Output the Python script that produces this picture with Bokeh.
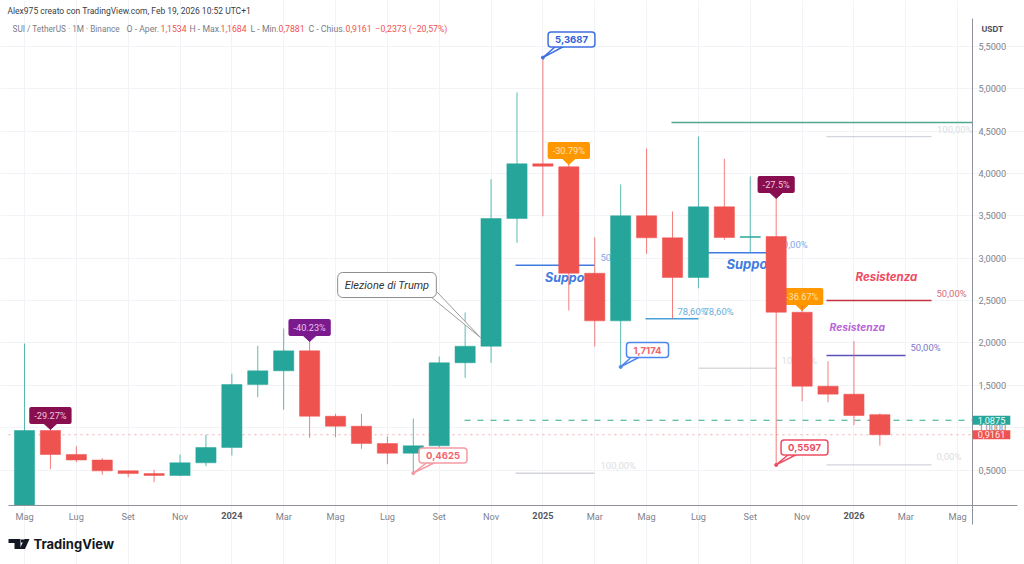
from bokeh.embed import file_html
from bokeh.resources import INLINE
from bokeh.plotting import figure
from bokeh.models import (ColumnDataSource, Label, LinearAxis, FixedTicker, Range1d, Grid, PolyAnnotation)

# ---------- candle data (monthly SUI/USDT) ----------
months = list(range(34))
opens  = [0.081,0.966,0.683,0.618,0.490,0.458,0.435,0.585,0.766,1.509,1.671,1.907,1.135,1.017,0.813,0.698,0.786,1.766,1.961,3.469,
          4.115,4.080,2.823,2.261,3.501,3.241,2.773,3.607,3.245,3.257,2.363,1.489,1.395,1.1534]
highs  = [1.993,1.060,0.781,0.640,0.497,0.502,0.683,0.916,1.636,1.966,2.170,2.029,1.163,1.163,0.895,1.108,1.840,2.359,3.933,4.957,
          5.3687,4.154,3.248,3.871,4.296,3.552,4.437,4.174,3.965,3.750,2.442,1.785,2.021,1.1684]
lows   = [0.081,0.509,0.592,0.443,0.415,0.356,0.427,0.545,0.671,1.359,1.211,0.880,0.887,0.750,0.568,0.4625,0.730,1.588,1.765,3.182,
          3.496,2.383,1.958,1.7174,3.052,2.288,2.646,3.218,3.064,0.5597,1.312,1.300,1.029,0.7881]
closes = [0.966,0.683,0.618,0.490,0.458,0.435,0.585,0.766,1.509,1.671,1.907,1.135,1.017,0.813,0.698,0.786,1.766,1.961,3.469,4.115,
          4.087,2.823,2.261,3.501,3.241,2.773,3.607,3.245,3.257,2.363,1.489,1.395,1.143,0.9161]

month_ticks = [0,2,4,6,10,12,14,16,18,22,24,26,28,30,34,36]
month_labels = ["Mag","Lug","Set","Nov","Mar","Mag","Lug","Set","Nov","Mar","Mag","Lug","Set","Nov","Mar","Mag"]
year_ticks = [8,20,32]
year_labels = ["2024","2025","2026"]
price_ticks = [0.5,1.0,1.5,2.0,2.5,3.0,3.5,4.0,4.5,5.0,5.5]
price_labels = ["0,5000","1,0000","1,5000","2,0000","2,5000","3,0000","3,5000","4,0000","4,5000","5,0000","5,5000"]

last_price = 0.9161
level_price = 1.0875

# percentage tags: month, price at tip, text, colour
tag_month = [1,11,21,29]
tag_tip   = [0.978,2.017,4.107,3.706]
tag_text  = ["-29.27%","-40.23%","-30.79%","-27.5%"]
tag_color = ["#880e4f","#7b1a8c","#ff9800","#880e4f"]
tag_ink   = ["#f3c6da","#e6c4ef","#ffe2b0","#f3c6da"]

# ---------- helpers: page pixel <-> data scale ----------
M = 25.92   # px per month
U = 84.7    # px per price unit
def ix(px): return (px-24)/M
def pv(py): return (511.85-py)/U

TEAL, RED = "#26a69a", "#ef5350"
GREY, GRID = "#8f929b", "#f1f3f7"
FONT = "Inter"
SMALL = "Roboto"

p = figure(width=1024, height=564, output_backend="svg", toolbar_location=None,
           x_range=Range1d(ix(0), ix(1024)), y_range=Range1d(pv(564), pv(0)),
           x_axis_location=None, y_axis_location=None,
           min_border_left=0, min_border_right=0, min_border_top=0, min_border_bottom=0,
           outline_line_color=None, background_fill_color="white", border_fill_color="white")
p.grid.visible = False

axis_y0 = pv(505)
axis_x1 = ix(972)

# grids
p.add_layout(Grid(dimension=0, ticker=FixedTicker(ticks=sorted(month_ticks+year_ticks)),
                  grid_line_color=GRID, grid_line_width=1, bounds=(axis_y0, pv(18))))
p.add_layout(Grid(dimension=1, ticker=FixedTicker(ticks=price_ticks),
                  grid_line_color=GRID, grid_line_width=1, bounds=(ix(8), axis_x1)))

# axes
xa = LinearAxis(fixed_location=axis_y0, ticker=FixedTicker(ticks=month_ticks),
                major_label_overrides=dict(zip(month_ticks, month_labels)))
ya = LinearAxis(fixed_location=axis_x1, ticker=FixedTicker(ticks=price_ticks),
                major_label_overrides=dict(zip(price_ticks, price_labels)))
for a in (xa, ya):
    a.axis_line_color = None
    a.major_tick_line_color = None
    a.minor_tick_line_color = None
    a.major_tick_in = 0
    a.major_tick_out = 0
    a.major_label_text_color = "#7f828c"
    a.major_label_text_font = SMALL
    a.major_label_text_font_size = "9.2px"
xa.major_label_standoff = 5
ya.major_label_standoff = 6
p.add_layout(xa, "below")
p.add_layout(ya, "right")

def txt(s, px, py, color, size="10px", style="normal", align="left", level="annotation", font=SMALL, **kw):
    p.add_layout(Label(x=ix(px), y=pv(py), text=s, text_color=color, text_font=font, text_font_size=size,
                       text_font_style=style, text_align=align, text_baseline="middle", level=level, **kw))

for m, lab in zip(year_ticks, year_labels):
    txt(lab, 24+m*M, 515, "#555862", "9.2px", "bold", "center")

# ---------- drawings beneath the candles ----------
def seg(x0, x1, price, color, width=1, dash="solid", alpha=1):
    p.line([ix(x0), ix(x1)], [price, price], line_color=color, line_width=width, line_dash=dash, line_alpha=alpha)

seg(8, 972, last_price, "#f7a8ac", 1, "dotted")
seg(464, 972, level_price, "#2aa88a", 1, [6,7])
seg(671, 972, 4.603, "#4fa88f", 1.5)
seg(826, 931, 4.437, "#d3d5dc", 1.2)
seg(826, 931, 2.5, "#c4323f", 1.5)
seg(826, 931, 0.561, "#d3d5dc", 1.2)
seg(826, 905, 1.852, "#5a52b8", 1.5)
seg(515, 594, 2.918, "#3f7be0", 1.5)
seg(698, 776, 3.065, "#3f7be0", 1.5)
seg(645, 698, 2.285, "#4aa0d8", 1.5)
seg(698, 776, 1.702, "#d8dade", 1.5)
seg(515, 594, 0.462, "#d3d5dc", 1.5)

u = "underlay"
txt("Supporto", 544.5, 277, "#3f7be0", "12.5px", "bold italic", level=u, font=FONT)
txt("Supporto", 726, 263, "#3f7be0", "13px", "bold italic", level=u, font=FONT)
txt("50,00%", 600, 257, "#7fa6ec", "9.5px", level=u)
txt("50,00%", 777, 244, "#7fa6ec", "9.5px", level=u)
txt("78,60%", 677, 310.5, "#6bb0dc", "9.5px", level=u)
txt("78,60%", 703, 310.5, "#6bb0dc", "9.5px", level=u)
txt("100,00%", 781, 360, "#dcdee3", "9.5px", level=u)
txt("100,00%", 600, 465, "#dcdee3", "9.5px", level=u)
txt("100,00%", 936.5, 129, "#dcdee3", "9.5px", level=u)
txt("0,00%", 936, 456, "#dcdee3", "9.5px", level=u)
txt("50,00%", 936, 292.5, "#d96c7c", "9.5px", level=u)
txt("50,00%", 910, 347, "#7f78c8", "9.5px", level=u)
txt("Resistenza", 855, 276, "#ef4b63", "11.5px", "bold italic", level=u, font=FONT)
txt("Resistenza", 829, 326, "#b866d8", "10.3px", "bold italic", level=u, font=FONT)

# -36.67% tag sits behind the previous candle
def tag_triangle(m, tip, color):
    p.patch([m-6.5/M, m, m+6.5/M], [tip+6/U, tip, tip+6/U], fill_color=color, line_color=color)

tag_triangle(30, 2.383, "#ff9800")
p.add_layout(Label(x=30, y=2.383+14/U, text="-36.67%", text_color="#ffe2b0", text_font=SMALL, text_font_size="9.2px",
                   text_align="center", text_baseline="middle", background_fill_color="#ff9800",
                   padding=(5,3), border_radius=2, level=u))

# ---------- candles ----------
up = [i for i in months if closes[i] >= opens[i]]
dn = [i for i in months if closes[i] < opens[i]]
for idx, col in ((up, TEAL), (dn, RED)):
    src = ColumnDataSource(dict(x=[months[i] for i in idx], o=[opens[i] for i in idx], c=[closes[i] for i in idx],
                                h=[highs[i] for i in idx], l=[lows[i] for i in idx]))
    p.segment("x", "h", "x", "l", source=src, line_color=col, line_width=1, line_alpha=0.75)
    p.vbar(x="x", width=0.78, top="c", bottom="o", source=src, fill_color=col, line_color=col, line_width=0.5)

# axis lines, which run past the plot corner
p.line([ix(8), ix(1017)], [axis_y0, axis_y0], line_color=GREY, line_width=1)
p.line([axis_x1, axis_x1], [pv(18), pv(524)], line_color=GREY, line_width=1)

# ---------- percentage tags ----------
for m, tip, s, col, ink in zip(tag_month, tag_tip, tag_text, tag_color, tag_ink):
    tag_triangle(m, tip, col)
    p.add_layout(Label(x=m, y=tip+14/U, text=s, text_color=ink, text_font=SMALL, text_font_size="9.2px",
                       text_align="center", text_baseline="middle", background_fill_color=col,
                       padding=(5,3), border_radius=2))

# ---------- price callouts ----------
def callout(m, price, s, cx, cy, border, ink):
    p.patch([m, ix(cx-16), ix(cx-8)], [price, pv(cy+7), pv(cy+7)], fill_color="white", line_color=border, line_width=1.5)
    p.scatter([m], [price], size=3, color=border)
    p.add_layout(Label(x=ix(cx), y=pv(cy), text=s, text_color=ink, text_font=FONT, text_font_size="9.5px",
                       text_font_style="bold", text_align="center", text_baseline="middle",
                       background_fill_color="white", border_line_color=border, border_line_width=1.5,
                       padding=(7,4), border_radius=3))

BLUE = "#3f6fe0"
callout(20, 5.3687, "5,3687", 571, 39, BLUE, "#2f5fd8")
callout(15, 0.4625, "0,4625", 442.5, 455, "#f59aa2", "#ef6570")
callout(23, 1.7174, "1,7174", 647, 349.5, "#4f86ee", "#ef6570")
callout(29, 0.5597, "0,5597", 804, 447, "#ee4d62", "#ee4d62")

# Trump note
p.patch([ix(436), ix(480), ix(430)], [pv(291), pv(337), pv(296)], fill_color="white", line_color="#9a9a9a", line_width=1)
p.add_layout(Label(x=ix(386.5), y=pv(284.5), text="Elezione di Trump", text_color="#333333", text_font=SMALL,
                   text_font_size="11px", text_font_style="italic", text_align="center", text_baseline="middle",
                   background_fill_color="white", border_line_color="#8e8e8e", border_line_width=1,
                   padding=(7,6), border_radius=5))

# ---------- price tags on the axis ----------
for price, s, col, ink in ((level_price, "1,0875", TEAL, "#e8fffa"), (last_price, "0,9161", RED, "#ffe9e9")):
    p.add_layout(Label(x=ix(991), y=price, text=s, text_color=ink, text_font=SMALL, text_font_size="9.2px",
                       text_align="center", text_baseline="middle", background_fill_color=col,
                       padding=(5,1)))

txt("USDT", 981, 28.5, "#4a4d57", "8px", "bold", font=FONT)

# ---------- header ----------
txt("Alex975 creato con TradingView.com, Feb 19, 2026 10:52 UTC+1", 7, 10, "#3a3d46", "8.5px", "normal")
HG, HR = "#7a7d87", "#ef5350"
txt("SUI / TetherUS · 1M · Binance", 12, 28, HG, "8.25px")
for s, x, c in (("O - Aper.", 126, HG), ("1,1534", 160, HR),
                ("H - Max.", 189, HG), ("1,1684", 220, HR), ("L - Min.", 250, HG), ("0,7881", 278, HR),
                ("C - Chius.", 308, HG), ("0,9161", 345, HR), ("−0,2373 (−20,57%)", 375, HR)):
    txt(s, x, 28, c, "8.7px")

# ---------- logo ----------
INK = "#131722"
txt("TradingView", 33, 543.5, INK, "13px", "bold", font=FONT)
p.add_layout(PolyAnnotation(xs=[ix(v) for v in (8,20,20,14,14,8)], ys=[pv(v) for v in (538.5,538.5,548.5,548.5,542.5,542.5)],
                            fill_color=INK, fill_alpha=1, line_color=INK, line_width=0))
p.add_layout(PolyAnnotation(xs=[ix(v) for v in (24,29,24.5,19)], ys=[pv(v) for v in (538.5,538.5,548.5,548.5)],
                            fill_color=INK, fill_alpha=1, line_color=INK, line_width=0))
p.add_layout(PolyAnnotation(xs=[ix(v) for v in (20.5,23.5,23.5,20.5)], ys=[pv(v) for v in (539,539,542,542)],
                            fill_color=INK, fill_alpha=1, line_color=INK, line_width=0))

open("out.html", "w").write(file_html(p, INLINE))
